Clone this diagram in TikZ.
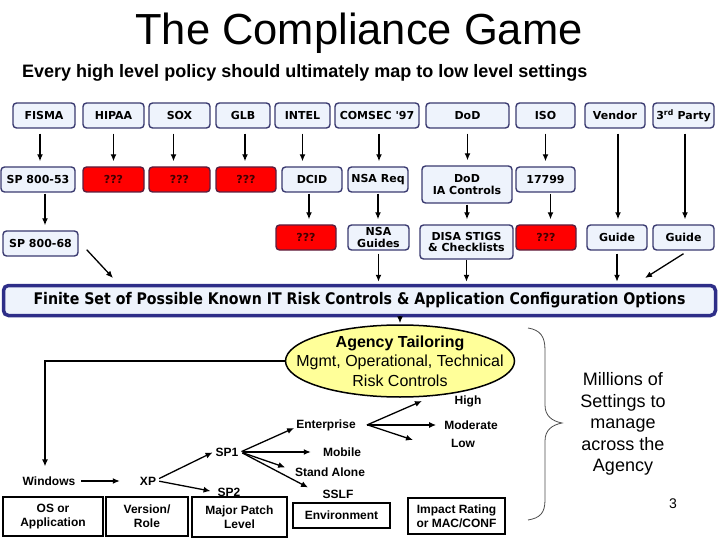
\documentclass[tikz,border=0pt]{standalone}
\usepackage{fontspec}
\setmainfont{Liberation Sans}
\newfontfamily\boxfont{DejaVu Sans}
\usepackage{graphicx}
\usetikzlibrary{arrows.meta,shapes.geometric}
\definecolor{boxfill}{HTML}{EEF3FC}
\definecolor{boxline}{HTML}{3A3A70}
\definecolor{barline}{HTML}{2E2E88}
\definecolor{redline}{HTML}{5A2040}
\definecolor{qtext}{HTML}{400000}
\definecolor{ellfill}{HTML}{FFFF99}
\begin{document}
\begin{tikzpicture}[x=1pt,y=-1pt,
  wh/.style 2 args={minimum width=#1pt,minimum height=#2pt},
  box/.style={draw=boxline,fill=boxfill,rounded corners=3.5pt,line width=1.4pt,inner sep=0pt,align=center,
    font=\boxfont\bfseries\fontsize{11}{11.5}\selectfont},
  redbox/.style={box,fill=red,draw=redline,text=qtext},
  arr/.style={-{Latex[length=7pt,width=6pt]},line width=1.3pt,shorten <=5pt,shorten >=5pt},
  lbl/.style={font=\bfseries\fontsize{12}{14}\selectfont,inner sep=2pt},
  bbox/.style={draw=black,line width=1.8pt,fill=white,align=center,inner sep=0pt,
    font=\bfseries\fontsize{12}{14}\selectfont}]
\useasboundingbox (0,0) rectangle (720,540);
% titles
\node[font=\fontsize{43.5}{46}\selectfont,inner sep=0pt] (title) at (359,33) {The Compliance Game};
\node[font=\bfseries\fontsize{18}{20}\selectfont,anchor=west,inner sep=0pt] (sub) at (22,73) {Every high level policy should ultimately map to low level settings};
% row 1
\node[box,wh={62}{25}] (fisma) at (44,115.5) {FISMA};
\node[box,wh={61}{25}] (hipaa) at (113.5,115.5) {HIPAA};
\node[box,wh={61}{25}] (sox) at (179.5,115.5) {SOX};
\node[box,wh={54}{25}] (glb) at (243,115.5) {GLB};
\node[box,wh={55}{25}] (intel) at (302.5,115.5) {INTEL};
\node[box,wh={84}{25}] (comsec) at (377,115.5) {COMSEC '97};
\node[box,wh={83}{25}] (dod) at (467.5,115.5) {DoD};
\node[box,wh={59}{25}] (iso) at (545.5,115.5) {ISO};
\node[box,wh={60}{25}] (vendor) at (615,115.5) {Vendor};
\node[box,wh={61}{25}] (third) at (683.5,115.5) {3\textsuperscript{rd} Party};
% row 2
\node[box,wh={74}{25}] (sp53) at (38,179.5) {SP 800-53};
\node[redbox,wh={61}{25}] (q1) at (113.5,179.5) {???};
\node[redbox,wh={61}{25}] (q2) at (179.5,179.5) {???};
\node[redbox,wh={60}{25}] (q3) at (246,179.5) {???};
\node[box,wh={60}{25}] (dcid) at (312,179.5) {DCID};
\node[box,wh={60}{25}] (nsareq) at (378,179.5) {NSA Req};
\node[box,wh={90}{37}] (dodia) at (467,184.5) {DoD\\IA Controls};
\node[box,wh={59}{25}] (s17799) at (545.5,179.5) {17799};
% row 3
\node[box,wh={75}{25}] (sp68) at (40.5,243.5) {SP 800-68};
\node[redbox,wh={60}{25}] (q4) at (306,237.5) {???};
\node[box,wh={61}{25},font=\boxfont\bfseries\fontsize{11}{12.5}\selectfont] (nsag) at (378.5,237.5) {NSA\\Guides};
\node[box,wh={93}{34}] (disa) at (466.5,242) {DISA STIGS\\\& Checklists};
\node[redbox,wh={60}{25}] (q5) at (546,237.5) {???};
\node[box,wh={60}{25}] (guide1) at (617,237.5) {Guide};
\node[box,wh={61}{25}] (guide2) at (683.5,237.5) {Guide};
% bar
\node[draw=barline,fill=boxfill,line width=3.5pt,rounded corners=5pt,wh={712}{30},inner sep=0pt,
  font=\boxfont\bfseries\fontsize{16}{18}\selectfont] (bar) at (359.5,300.5)
  {\scalebox{0.885}[1]{Finite Set of Possible Known IT Risk Controls \& Application Configuration Options}};
% arrows row1 -> row2
\draw[arr] ([xshift=-4pt]fisma.south) -- ([xshift=-4pt]fisma.south |- sp53.north);
\draw[arr] (hipaa.south) -- (hipaa.south |- q1.north);
\draw[arr] ([xshift=-6pt]sox.south) -- ([xshift=-6pt]sox.south |- q2.north);
\draw[arr] ([xshift=2pt]glb.south) -- ([xshift=2pt]glb.south |- q3.north);
\draw[arr] (intel.south) -- (intel.south |- dcid.north);
\draw[arr] ([xshift=2pt]comsec.south) -- ([xshift=2pt]comsec.south |- nsareq.north);
\draw[arr] (dod.south) -- (dod.south |- dodia.north);
\draw[arr] (iso.south) -- (iso.south |- s17799.north);
\draw[arr] ([xshift=3pt]vendor.south) -- ([xshift=3pt]vendor.south |- guide1.north);
\draw[arr] ([xshift=1.5pt]third.south) -- ([xshift=1.5pt]third.south |- guide2.north);
% row2 -> row3
\draw[arr,shorten <=1pt] ([xshift=7pt]sp53.south) -- ([xshift=7pt]sp53.south |- sp68.north);
\draw[arr,shorten <=1pt] ([xshift=-3pt]dcid.south) -- ([xshift=-3pt]dcid.south |- q4.north);
\draw[arr,shorten <=1pt] (nsareq.south) -- (nsareq.south |- nsag.north);
\draw[arr,shorten <=1pt] (dodia.south) -- (dodia.south |- disa.north);
\draw[arr,shorten <=1pt] ([xshift=5pt]s17799.south) -- ([xshift=5pt]s17799.south |- q5.north);
% row3 -> bar
\coordinate (b1) at (113,278);
\coordinate (b2) at (645,278);
\draw[arr,shorten <=0pt,shorten >=0pt] ([shift={(8pt,7pt)}]sp68.south east) -- (b1);
\draw[arr,shorten <=3pt,shorten >=2pt] (nsag.south) -- (nsag.south |- bar.north);
\draw[arr,shorten <=0pt,shorten >=2pt] (disa.south) -- (disa.south |- bar.north);
\draw[arr,shorten <=3pt,shorten >=2pt] (guide1.south) -- (guide1.south |- bar.north);
\draw[arr,shorten <=0pt,shorten >=0pt] ([yshift=-3pt]guide2.south) -- (b2);
% ellipse
\node[ellipse,draw=black,line width=1.5pt,fill=ellfill,wh={229}{72},inner sep=0pt] (ell) at (400,361) {};
\node[align=center,inner sep=0pt,font=\fontsize{16}{19.5}\selectfont] (elltext) at (ell.center)
  {\textbf{Agency Tailoring}\\Mgmt, Operational, Technical\\Risk Controls};
\draw[arr,shorten <=1pt,shorten >=1pt] (bar.south -| ell.north) -- (ell.north);
% lower labels
\node[lbl] (windows) at (49,481) {Windows};
\node[lbl] (xp) at (148,481) {XP};
\node[lbl] (sp1) at (227,452) {SP1};
\node[lbl] (sp2) at (229,492) {SP2};
\node[lbl] (enterprise) at (326,425) {Enterprise};
\node[lbl] (mobile) at (342,452) {Mobile};
\node[lbl] (standalone) at (330,472) {Stand Alone};
\node[lbl] (sslf) at (338,494) {SSLF};
\node[lbl] (high) at (468,401) {High};
\node[lbl] (moderate) at (471,425) {Moderate};
\node[lbl] (low) at (463,443) {Low};
\draw[arr,shorten <=0pt,shorten >=8pt] (ell.west) -| ([xshift=-4pt]windows.north);
\draw[arr,shorten <=4pt,shorten >=18pt] (windows.east) -- (xp.west);
\draw[arr,shorten <=1pt,shorten >=1pt] ([yshift=2pt]xp.east) -- (sp1.west);
\draw[arr,shorten <=1pt,shorten >=5pt] (xp.east) -- (sp2.west);
\draw[arr,shorten <=1pt,shorten >=0pt] (sp1.east) -- ([yshift=-3pt]enterprise.west);
\draw[arr,shorten <=2pt,shorten >=10pt] (sp1.east) -- (mobile.west);
\draw[arr,shorten <=2pt,shorten >=8pt] (sp1.east) -- ([yshift=2pt]standalone.west);
\draw[arr,shorten <=2pt,shorten >=14pt] (sp1.east) -- (sslf.west);
\coordinate (hightip) at (422,401);
\coordinate (lowtip) at (413,440);
\draw[arr,shorten <=0pt,shorten >=0pt] ([xshift=9pt]enterprise.east) -- (hightip);
\draw[arr,shorten <=9pt,shorten >=6pt] (enterprise.east) -- (moderate.west);
\draw[arr,shorten <=0pt,shorten >=0pt] ([xshift=10pt]enterprise.east) -- (lowtip);
% bottom boxes
\node[bbox,wh={100}{39}] (os) at (53,516.5) {OS or\\Application};
\node[bbox,wh={82}{39}] (ver) at (147,516.5) {Version/\\Role};
\node[bbox,wh={95}{40}] (major) at (239.5,517) {Major Patch\\Level};
\node[bbox,wh={97}{25}] (env) at (341.5,515.5) {Environment};
\node[bbox,wh={97}{36}] (impact) at (456.5,516) {Impact Rating\\or MAC/CONF};
% brace
\draw[line width=0.8pt,black!70] (528,328) .. controls (540,330) and (545,336) .. (545,350)
  -- (545,405) .. controls (545,416) and (552,421) .. (562,423)
  .. controls (552,425) and (545,430) .. (545,441)
  -- (545,500) .. controls (545,513) and (540,518) .. (528,520);
\node[align=center,inner sep=0pt,font=\fontsize{18}{21.5}\selectfont] (millions) at (623,424)
  {Millions of\\Settings to\\manage\\across the\\Agency};
\node[inner sep=0pt,font=\fontsize{14}{16}\selectfont] (pg) at (673,504) {3};
\end{tikzpicture}
\end{document}
